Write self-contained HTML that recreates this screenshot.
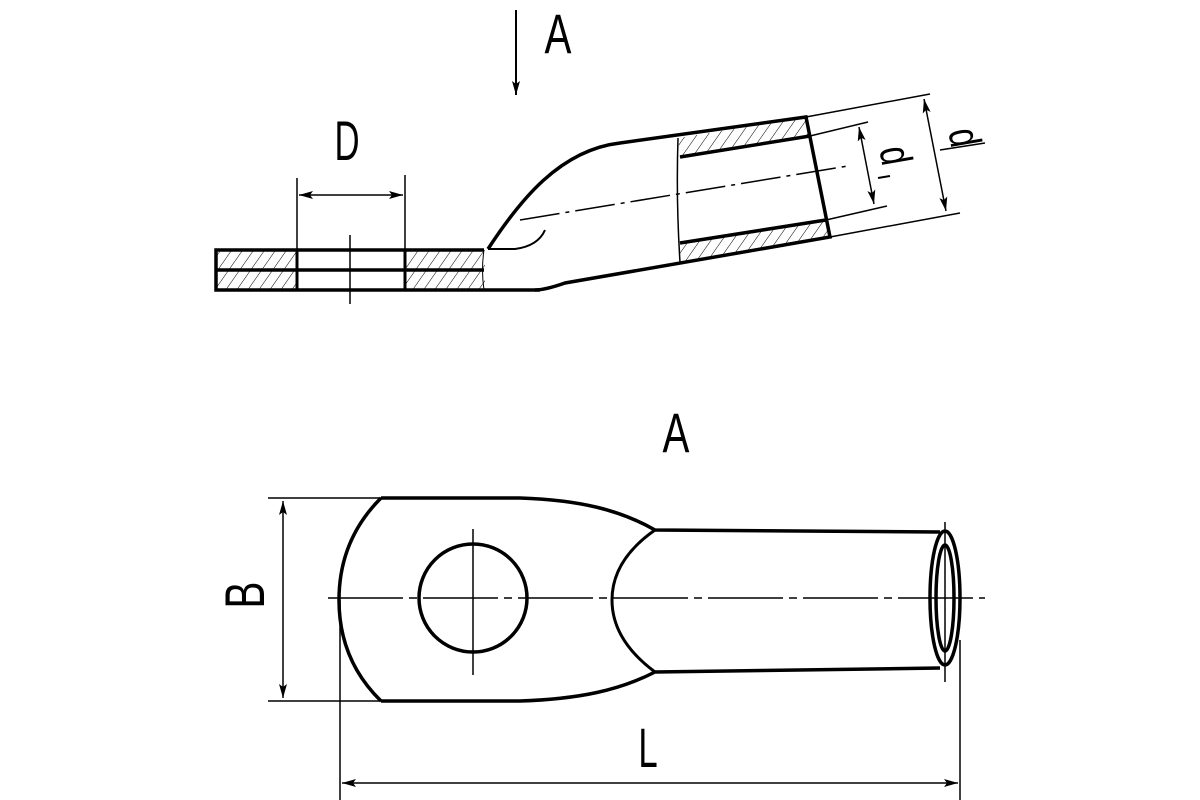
<!DOCTYPE html>
<html><head><meta charset="utf-8"><style>html,body{margin:0;padding:0;background:#fff;}svg{display:block}</style></head>
<body>
<svg width="1200" height="800" viewBox="0 0 1200 800" xmlns="http://www.w3.org/2000/svg">
<defs>
<pattern id="h" patternUnits="userSpaceOnUse" width="9" height="9" patternTransform="rotate(35)">
<line x1="0" y1="0" x2="0" y2="9" stroke="#000" stroke-width="1"/>
</pattern>
<marker id="ar" viewBox="0 0 14 8" refX="14" refY="4" markerWidth="14" markerHeight="8" markerUnits="userSpaceOnUse" orient="auto-start-reverse">
<path d="M0,0 L14,4 L0,8 L3,4 Z" fill="#000"/>
</marker>
</defs>
<g font-family="Liberation Sans, sans-serif" font-size="56" fill="#000" text-anchor="middle">
<text x="0" y="0" transform="translate(558,53) scale(0.72,1)">A</text>
<text x="0" y="0" transform="translate(347,160) scale(0.62,1)">D</text>
<text x="0" y="0" transform="translate(676,452) scale(0.72,1)">A</text>
<text x="0" y="0" transform="translate(648,767) scale(0.62,1)">L</text>
<text x="0" y="0" transform="translate(264,595) rotate(-90) scale(0.72,1)">B</text>
<text x="0" y="0" font-size="44" transform="translate(950,140) rotate(80) scale(0.75,1)">d</text>
<text x="0" y="0" font-size="44" transform="translate(881,158) rotate(80) scale(0.75,1)">d</text>
<line x1="878" y1="178" x2="890" y2="176" stroke="#000" stroke-width="2"/>
</g>
<g stroke="#000" fill="none" stroke-width="1.5">
<line x1="516" y1="10" x2="516" y2="95" stroke-width="2" marker-end="url(#ar)"/>
<rect x="216" y="250" width="81" height="40" fill="url(#h)" stroke="none"/>
<rect x="405" y="250" width="80" height="40" fill="url(#h)" stroke="none"/>
<path d="M678,138 L806,117 L810,137 L680,157 Z" fill="url(#h)" stroke="none"/>
<path d="M680,243 L826,220 L830,237 L680,262 Z" fill="url(#h)" stroke="none"/>
<path d="M484,250 L216,250 L216,290 L540,290" stroke-width="3.5"/>
<line x1="216" y1="270" x2="484" y2="270" stroke-width="3.5"/>
<line x1="297" y1="178" x2="297" y2="290"/>
<line x1="405" y1="175" x2="405" y2="290"/>
<line x1="297" y1="250" x2="297" y2="290" stroke-width="3"/>
<line x1="405" y1="250" x2="405" y2="290" stroke-width="3"/>
<line x1="350" y1="235" x2="350" y2="304"/>
<line x1="299" y1="195" x2="403" y2="195" marker-start="url(#ar)" marker-end="url(#ar)"/>
<path d="M484,250 Q481,270 484,290" stroke-width="1"/>
<path d="M488,249 C520,200 560,150 620,143 L806,117 L830,237 L565,283 Q545,290 535,290" stroke-width="3.5"/>
<path d="M488,249 L515,249 Q538,246 545,230" stroke-width="2"/>
<path d="M678,138 Q676,200 680,262" stroke-width="1.5"/>
<line x1="680" y1="157" x2="810" y2="136" stroke-width="3.5"/>
<line x1="680" y1="243" x2="826" y2="220" stroke-width="3.5"/>
<line x1="520" y1="220" x2="848" y2="166" stroke-dasharray="40,6,4,6"/>
<line x1="806" y1="117" x2="930" y2="94"/>
<line x1="810" y1="136" x2="868" y2="122"/>
<line x1="826" y1="220" x2="887" y2="206"/>
<line x1="830" y1="237" x2="960" y2="213"/>
<line x1="924" y1="99" x2="946" y2="211" marker-start="url(#ar)" marker-end="url(#ar)"/>
<line x1="859" y1="127" x2="874" y2="204" marker-start="url(#ar)" marker-end="url(#ar)"/>
<line x1="940" y1="150" x2="985" y2="143"/>
<path d="M381,498 L520,498 C580,500 620,510 655,530 L940,532" stroke-width="3.5"/>
<path d="M381,701 L520,701 C580,699 620,690 655,672 L940,668" stroke-width="3.5"/>
<path d="M381,498 Q339,540 339,600 Q339,660 381,701" stroke-width="3.5"/>
<path d="M655,530 Q612,560 612,600 Q612,640 655,672" stroke-width="3"/>
<circle cx="473" cy="598" r="54" stroke-width="3.5"/>
<line x1="473" y1="529" x2="473" y2="675"/>
<line x1="328" y1="598" x2="985" y2="598" stroke-dasharray="75,6,8,6"/>
<ellipse cx="945" cy="598" rx="15" ry="67" stroke-width="3.5"/>
<ellipse cx="945" cy="598" rx="9" ry="53" stroke-width="3.5"/>
<line x1="945" y1="522" x2="945" y2="682"/>
<line x1="268" y1="498" x2="381" y2="498"/>
<line x1="268" y1="701" x2="381" y2="701"/>
<line x1="283" y1="501" x2="283" y2="698" marker-start="url(#ar)" marker-end="url(#ar)"/>
<line x1="340" y1="600" x2="340" y2="800"/>
<line x1="960" y1="640" x2="960" y2="800"/>
<line x1="342" y1="783" x2="958" y2="783" marker-start="url(#ar)" marker-end="url(#ar)"/>
</g>
</svg>
</body></html>
